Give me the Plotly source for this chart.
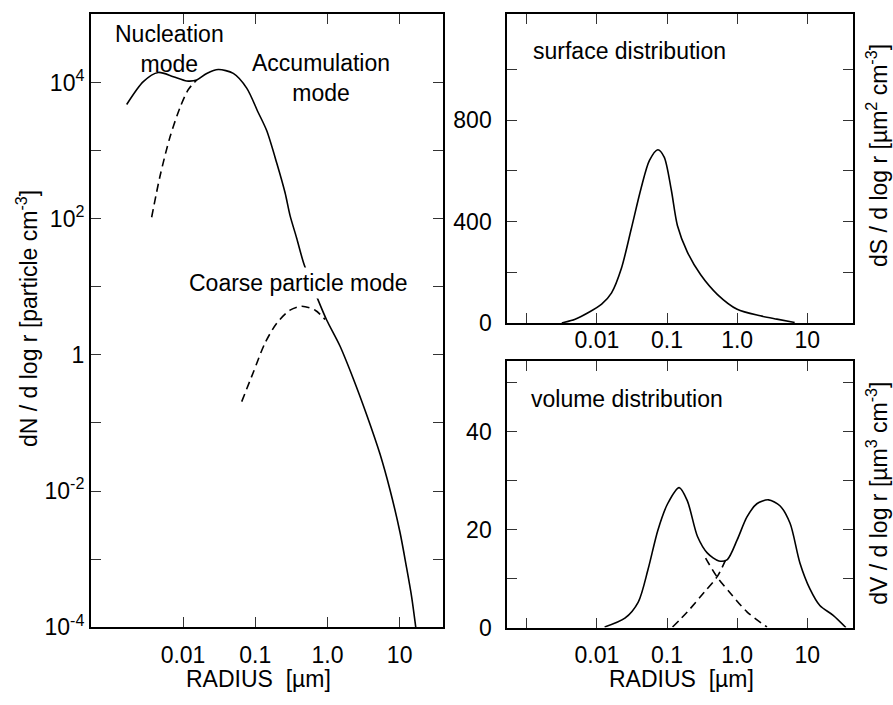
import plotly.graph_objects as go

W, H = 893, 705
FONT = "Liberation Sans, Arial, sans-serif"
FS = 23

# ---------------- data ----------------
# Number distribution, left panel (radius in um, dN/dlogr in particle cm^-3)
num_total_r = [0.00166, 0.00282, 0.00455, 0.00734, 0.01125, 0.0155, 0.0213, 0.0308,
               0.0497, 0.0762, 0.110, 0.144, 0.199, 0.259, 0.303, 0.376, 0.474,
               0.746, 0.975, 1.49, 2.28, 3.49, 5.33, 7.34, 10.1, 12.5, 14.7, 16.7]
num_total = [4760, 10330, 14060, 12190, 10550, 10890, 13600, 15520,
             13600, 8280, 3630, 1970, 652, 240, 112, 51.3, 21.4,
             6.31, 3.25, 1.35, 0.447, 0.132, 0.0352, 0.01045, 0.00248, 0.000736,
             0.000273, 0.0001]

num_accum_tail_r = [0.00368, 0.0048, 0.0066, 0.00908, 0.0118, 0.0155]
num_accum_tail = [105, 420, 1580, 4270, 7830, 10890]

num_coarse_r = [0.065, 0.0942, 0.137, 0.199, 0.303, 0.441, 0.676, 0.927]
num_coarse = [0.206, 0.556, 1.50, 2.92, 4.53, 5.18, 4.53, 3.30]

# Surface distribution (um^2 cm^-3)
surf_r = [0.00316, 0.0049, 0.00759, 0.0117, 0.0162, 0.0224, 0.0309, 0.0427, 0.0562,
          0.0741, 0.0912, 0.115, 0.141, 0.195, 0.302, 0.525, 1.0, 2.14, 3.68, 6.61]
surf = [0, 15, 41, 74, 119, 216, 371, 532, 642,
        684, 655, 526, 384, 280, 190, 112, 54, 28, 15, 2]

# Volume distribution (um^3 cm^-3)
vol_r = [0.0129, 0.0251, 0.0389, 0.0537, 0.0741, 0.102, 0.149, 0.195, 0.272, 0.377,
         0.550, 0.724, 1.0, 1.38, 1.91, 2.80, 4.07, 5.68, 7.85, 10.9, 15.1, 23.4, 35.5]
vol = [0.1, 1.9, 5.2, 11.9, 19.9, 25.3, 28.6, 25.9, 18.6, 15.2,
       13.6, 13.9, 17.9, 22.6, 25.3, 26.1, 24.9, 21.3, 13.2, 7.9, 4.5, 2.5, 0]

vol_accum_r = [0.355, 0.525, 0.813, 1.38, 2.66]
vol_accum = [14.2, 10.2, 6.9, 3.2, 0.1]
vol_coarse_r = [0.120, 0.195, 0.339, 0.525, 0.724]
vol_coarse = [0.1, 3.2, 7.2, 10.5, 14.6]

# tick labels (major = labelled, minor = unlabelled tick marks)
x_ticks_left = [0.01, 0.1, 1, 10]
x_labels_left = ["0.01", "0.1", "1.0", "10"]
x_ticks_right = [0.01, 0.1, 1, 10]
x_labels_right = ["0.01", "0.1", "1.0", "10"]
x_minor_right = [0.001]
y_ticks_num = [1e-4, 1e-2, 1, 100, 1e4]
y_labels_num = ["10<sup>-4</sup>", "10<sup>-2</sup>", "1", "10<sup>2</sup>", "10<sup>4</sup>"]
y_minor_num = [1e-3, 1e-1, 10, 1e3, 1e5]
y_ticks_surf = [0, 400, 800]
y_labels_surf = ["0", "400", "800"]
y_minor_surf = [200, 600, 1000]
y_ticks_vol = [0, 20, 40]
y_labels_vol = ["0", "20", "40"]
y_minor_vol = [10, 30, 50]


def px(x):
    return x / W


def py(y):
    return 1 - y / H


fig = go.Figure()
solid = dict(color="black", width=1.6, shape="spline", smoothing=0.8)
dashed = dict(color="black", width=1.6, dash="8px,5px", shape="spline", smoothing=0.8)

fig.add_trace(go.Scatter(x=num_total_r, y=num_total, mode="lines", line=solid,
                         xaxis="x", yaxis="y"))
fig.add_trace(go.Scatter(x=num_accum_tail_r, y=num_accum_tail, mode="lines", line=dashed,
                         xaxis="x", yaxis="y"))
fig.add_trace(go.Scatter(x=num_coarse_r, y=num_coarse, mode="lines", line=dashed,
                         xaxis="x", yaxis="y"))
fig.add_trace(go.Scatter(x=surf_r, y=surf, mode="lines", line=solid,
                         xaxis="x2", yaxis="y2"))
fig.add_trace(go.Scatter(x=vol_r, y=vol, mode="lines", line=solid,
                         xaxis="x3", yaxis="y3"))
fig.add_trace(go.Scatter(x=vol_accum_r, y=vol_accum, mode="lines", line=dashed,
                         xaxis="x3", yaxis="y3"))
fig.add_trace(go.Scatter(x=vol_coarse_r, y=vol_coarse, mode="lines", line=dashed,
                         xaxis="x3", yaxis="y3"))

axis_common = dict(showline=True, linecolor="black", linewidth=2, mirror="ticks",
                   ticks="inside", ticklen=10, tickwidth=1, tickcolor="#333",
                   showgrid=False, zeroline=False,
                   tickfont=dict(family=FONT, size=FS, color="black"))


def minor(vals):
    return dict(tickvals=vals, ticks="inside", ticklen=10, tickwidth=1,
                tickcolor="#333", showgrid=False)


fig.update_layout(
    width=W, height=H, margin=dict(l=0, r=0, t=0, b=0),
    paper_bgcolor="white", plot_bgcolor="white", showlegend=False,
    font=dict(family=FONT, size=FS, color="black"),
    xaxis=dict(axis_common, type="log", range=[-3.274, 1.6],
               domain=[px(91), px(443)], anchor="y",
               tickvals=x_ticks_left, ticktext=x_labels_left, ticklabelstandoff=6),
    yaxis=dict(axis_common, type="log", range=[-4, 5.01],
               domain=[py(639), py(14)], anchor="x",
               tickvals=y_ticks_num, ticktext=y_labels_num, ticklabelstandoff=0,
               minor=minor(y_minor_num)),
    xaxis2=dict(axis_common, type="log", range=[-3.277, 1.656],
                domain=[px(507.3), px(853.3)], anchor="y2",
                tickvals=x_ticks_right, ticktext=x_labels_right, ticklabelstandoff=-5,
                minor=minor(x_minor_right)),
    yaxis2=dict(axis_common, range=[0, 1221],
                domain=[py(329), py(14)], anchor="x2",
                tickvals=y_ticks_surf, ticktext=y_labels_surf, ticklabelstandoff=9,
                minor=minor(y_minor_surf)),
    xaxis3=dict(axis_common, type="log", range=[-3.277, 1.656],
                domain=[px(507.3), px(853.3)], anchor="y3",
                tickvals=x_ticks_right, ticktext=x_labels_right, ticklabelstandoff=6,
                minor=minor(x_minor_right)),
    yaxis3=dict(axis_common, range=[0, 54.5],
                domain=[py(639.3), py(367.7)], anchor="x3",
                tickvals=y_ticks_vol, ticktext=y_labels_vol, ticklabelstandoff=9,
                minor=minor(y_minor_vol)),
)


def note(text, x, y, xanchor="center", yanchor="middle", angle=0, bg=None):
    d = dict(text=text, x=px(x), y=py(y), xref="paper", yref="paper",
             xanchor=xanchor, yanchor=yanchor, showarrow=False, textangle=angle,
             font=dict(family=FONT, size=FS, color="black"))
    if bg:
        d.update(bgcolor=bg, borderpad=2)
    fig.add_annotation(**d)


# axis titles
note("dN / d log r [particle cm<sup>-3</sup>]", 27, 325, angle=-90)
note("RADIUS  [µm]", 258.5, 691.5)
note("RADIUS  [µm]", 681.5, 691.5)
note("dS / d log r [µm<sup>2</sup> cm<sup>-3</sup>]", 877, 159, angle=-90)
note("dV / d log r [µm<sup>3</sup> cm<sup>-3</sup>]", 877, 503, angle=-90)

# in-plot labels
note("Nucleation<br>mode", 169.5, 50)
note("Accumulation<br>mode", 321, 79)
note("Coarse particle mode", 298, 288.3, bg="white")
note("surface distribution", 531, 51.7, xanchor="left")
note("volume distribution", 529, 406.7, xanchor="left")

fig.write_html("out.html", config={"displayModeBar": False},
               post_script="document.body.style.margin='0';")
